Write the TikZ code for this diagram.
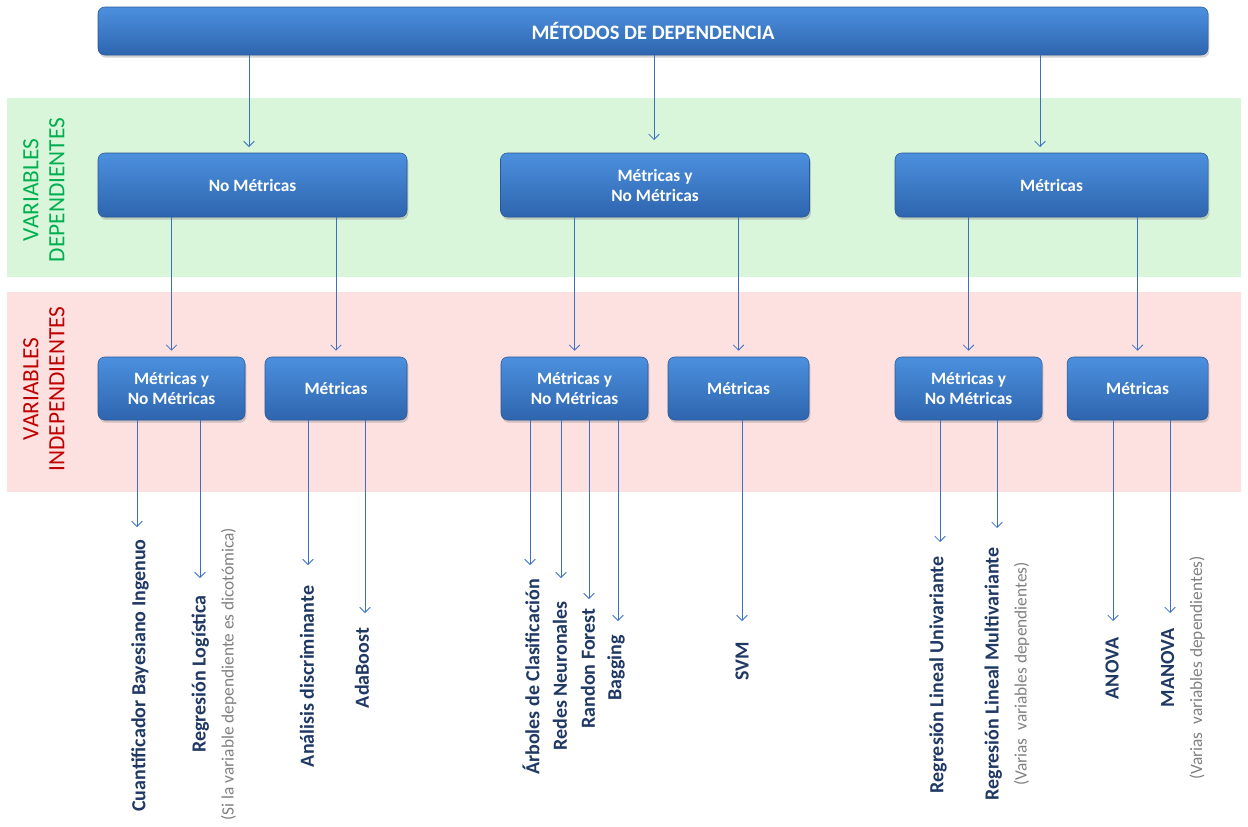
\documentclass[tikz,border=0pt]{standalone}
\usepackage{fontspec}
\setmainfont{Carlito}
\usetikzlibrary{shadows,arrows.meta}

\definecolor{bandgreen}{RGB}{217,245,218}
\definecolor{bandpink}{RGB}{253,224,224}
\definecolor{boxtop}{RGB}{76,144,222}
\definecolor{boxbot}{RGB}{46,101,174}
\definecolor{boxline}{RGB}{43,87,150}
\definecolor{linkblue}{RGB}{58,112,196}
\definecolor{leafblue}{RGB}{31,56,100}
\definecolor{notegray}{RGB}{128,128,128}
\definecolor{labgreen}{RGB}{0,176,80}
\definecolor{labred}{RGB}{192,0,0}

\newcommand{\nota}[1]{{\color{notegray}\mdseries\fontsize{13}{21}\selectfont #1}}

\begin{document}
\begin{tikzpicture}[x=0.75pt, y=-0.75pt,
		box/.style={draw=boxline, rounded corners=5pt, top color=boxtop, bottom color=boxbot,
			drop shadow={opacity=0.35, shadow xshift=1pt, shadow yshift=-2pt},
			text=white, font=\bfseries\fontsize{13}{15}\selectfont, align=center, inner sep=0pt},
		link/.style={-{Straight Barb[length=4pt,width=8pt]}, draw=linkblue, line width=0.6pt},
		leaf/.style={rotate=90, align=center, text=leafblue, font=\bfseries\fontsize{15}{21}\selectfont},
		bandlabel/.style={rotate=90, align=center, font=\fontsize{17.5}{19.5}\selectfont}]
		\useasboundingbox (0,0) rectangle (1248,826);
		
		% bands
		\path[fill=bandgreen] (7,98) rectangle (1241,277);
		\path[fill=bandpink] (7,292) rectangle (1241,492);
		\node[bandlabel, text=labgreen] (vdep) at (44,190) {VARIABLES\\DEPENDIENTES};
		\node[bandlabel, text=labred] (vind) at (44,389) {VARIABLES\\INDEPENDIENTES};
		
		% title
		\node[box, minimum width=832.5pt, minimum height=36pt, font=\bfseries\fontsize{15.4}{18}\selectfont] (top) at (653,31) {MÉTODOS DE DEPENDENCIA};
		
		% dependent variables
		\node[box, minimum width=231.75pt, minimum height=48pt] (l2a) at (252.5,185) {No Métricas};
		\node[box, minimum width=231.75pt, minimum height=48pt] (l2b) at (655,185) {Métricas y\\No Métricas};
		\node[box, minimum width=234.75pt, minimum height=48pt] (l2c) at (1051.5,185) {Métricas};
		
		% independent variables
		\node[box, minimum width=110.25pt, minimum height=47.25pt] (l3a) at (171.5,388.5) {Métricas y\\No Métricas};
		\node[box, minimum width=106.5pt, minimum height=47.25pt] (l3b) at (336,388.5) {Métricas};
		\node[box, minimum width=110.25pt, minimum height=47.25pt] (l3c) at (574.5,388.5) {Métricas y\\No Métricas};
		\node[box, minimum width=105.75pt, minimum height=47.25pt] (l3d) at (738.5,388.5) {Métricas};
		\node[box, minimum width=110.25pt, minimum height=47.25pt] (l3e) at (968.5,388.5) {Métricas y\\No Métricas};
		\node[box, minimum width=105.75pt, minimum height=47.25pt] (l3f) at (1137.5,388.5) {Métricas};
		
		% arrows title -> dependent
		\coordinate (ka) at (249,147);
		\coordinate (kb) at (654,140);
		\coordinate (kc) at (1040,147);
		\draw[link] (top.south -| ka) -- (ka);
		\draw[link] (top.south -| kb) -- (kb);
		\draw[link] (top.south -| kc) -- (kc);
		
		% arrows dependent -> independent
		\draw[link] (l2a.south -| l3a.north) -- ([yshift=4.5pt]l3a.north);
		\draw[link] (l2a.south -| l3b.north) -- ([yshift=4.5pt]l3b.north);
		\draw[link] (l2b.south -| l3c.north) -- ([yshift=4.5pt]l3c.north);
		\draw[link] (l2b.south -| l3d.north) -- ([yshift=4.5pt]l3d.north);
		\draw[link] (l2c.south -| l3e.north) -- ([yshift=4.5pt]l3e.north);
		\draw[link] (l2c.south -| l3f.north) -- ([yshift=4.5pt]l3f.north);
		
		% methods
		\node[leaf] (cbi) at (140,675.5) {Cuantificador Bayesiano Ingenuo};
		\node[leaf] (rlog) at (214,674) {Regresión Logística\\\nota{(Si la variable dependiente es dicotómica)}};
		\node[leaf] (adis) at (307,676.5) {Análisis discriminante};
		\node[leaf] (ada) at (362,668) {AdaBoost};
		\node[leaf] (arb) at (531,677) {Árboles de Clasificación};
		\node[leaf] (red) at (560,676) {Redes Neuronales};
		\node[leaf] (rf) at (588,668.5) {Randon Forest};
		\node[leaf] (bag) at (616,668) {Bagging};
		\node[leaf] (svm) at (742,661.5) {SVM};
		\node[leaf] (rlu) at (938,675) {Regresión Lineal Univariante};
		\node[leaf] (rlm) at (1007,674) {Regresión Lineal Multivariante\\\nota{(Varias\ \ variables dependientes)}};
		\node[leaf] (anova) at (1112,668.5) {ANOVA};
		\node[leaf] (manova) at (1183,668) {MANOVA\\\nota{(Varias\ \ variables dependientes)}};
		
		% arrows independent -> methods
		\coordinate (tcbi) at (137,527);
		\coordinate (trlog) at (200,578);
		\coordinate (tadis) at (308,565);
		\coordinate (tada) at (365,613);
		\coordinate (tarb) at (530,565);
		\coordinate (tred) at (561,578);
		\coordinate (trf) at (589,599);
		\coordinate (tbag) at (618,621);
		\coordinate (tsvm) at (742,621);
		\coordinate (trlu) at (940,542);
		\coordinate (trlm) at (997,528);
		\coordinate (tanova) at (1113,621);
		\coordinate (tmanova) at (1170,613);
		\draw[link] (l3a.south -| tcbi) -- (tcbi);
		\draw[link] (l3a.south -| trlog) -- (trlog);
		\draw[link] (l3b.south -| tadis) -- (tadis);
		\draw[link] (l3b.south -| tada) -- (tada);
		\draw[link] (l3c.south -| tarb) -- (tarb);
		\draw[link] (l3c.south -| tred) -- (tred);
		\draw[link] (l3c.south -| trf) -- (trf);
		\draw[link] (l3c.south -| tbag) -- (tbag);
		\draw[link] (l3d.south -| tsvm) -- (tsvm);
		\draw[link] (l3e.south -| trlu) -- (trlu);
		\draw[link] (l3e.south -| trlm) -- (trlm);
		\draw[link] (l3f.south -| tanova) -- (tanova);
		\draw[link] (l3f.south -| tmanova) -- (tmanova);
\end{tikzpicture}
\end{document}
